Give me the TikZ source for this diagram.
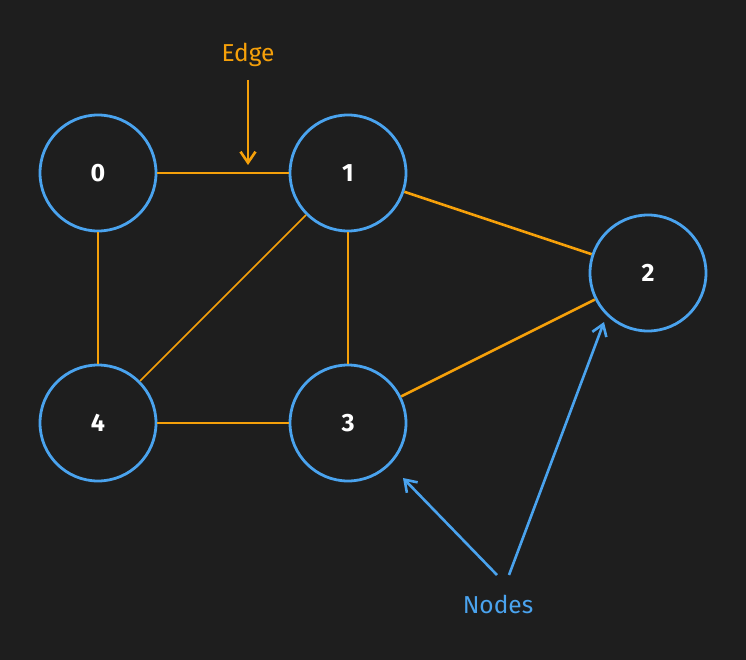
\documentclass[tikz,border=0pt]{standalone}
\usepackage{fontspec}
\setmainfont{Fira Sans}
\usetikzlibrary{arrows.meta}
\definecolor{bg}{RGB}{30,30,30}
\definecolor{nodeblue}{RGB}{74,163,238}
\definecolor{edgeorange}{RGB}{245,160,10}
\begin{document}
\begin{tikzpicture}[x=1pt,y=-1pt,
  gnode/.style={circle,draw=nodeblue,line width=2.8pt,fill=bg,minimum size=116pt,inner sep=0pt,text=white,font=\fontsize{25}{27}\selectfont\bfseries},
  gedge/.style={draw=edgeorange,line width=2.6pt},
  thinedge/.style={draw=edgeorange,line width=1.6pt},
  lbl/.style={font=\fontsize{24.5}{26}\selectfont,inner sep=0pt},
  pointer/.style={line width=2.6pt,-{Straight Barb[length=11pt,width=15pt,line width=2.6pt]}}]
\fill[bg] (0,0) rectangle (746,660);
\useasboundingbox (0,0) rectangle (746,660);
\node[gnode] (n0) at (98,173) {0};
\node[gnode] (n1) at (348,173) {1};
\node[gnode] (n2) at (648,273) {2};
\node[gnode] (n3) at (348,423) {3};
\node[gnode] (n4) at (98,423) {4};
\draw[gedge] (n0) -- (n1);
\draw[gedge] (n1) -- (n2);
\draw[gedge] (n1) -- (n3);
\draw[thinedge] (n1) -- (n4);
\draw[gedge] (n0) -- (n4);
\draw[gedge] (n4) -- (n3);
\draw[gedge] (n3) -- (n2);
\node[lbl,text=edgeorange] (edge) at (248,55) {Edge};
\coordinate (edgetip) at (248,165);
\coordinate (edgetail) at (248,80);
\draw[pointer,edgeorange] (edgetail) -- (edgetip);
\node[lbl,text=nodeblue] (nodes) at (498,604) {Nodes};
\coordinate (na) at (497,575);
\coordinate (nb) at (509,575);
\coordinate (ta) at (403,478);
\coordinate (tb) at (604,322);
\draw[pointer,nodeblue] (na) -- (ta);
\draw[pointer,nodeblue] (nb) -- (tb);
\end{tikzpicture}
\end{document}
